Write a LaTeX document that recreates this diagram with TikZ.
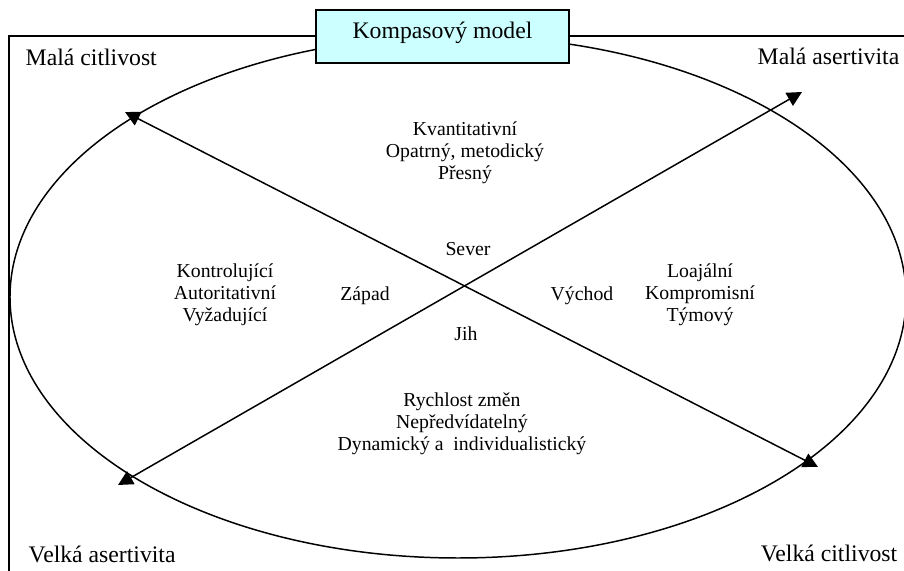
\documentclass[tikz,border=0pt]{standalone}
\usepackage{fontspec}
\setmainfont{Liberation Serif}
\usetikzlibrary{arrows.meta}
\definecolor{titlecyan}{RGB}{204,255,255}
\begin{document}
\begin{tikzpicture}[x=0.506pt, y=-0.506pt, >={Triangle[length=7.5pt,width=7.5pt]}, line width=0.75pt,
  cornerlabel/.style={font=\fontsize{12}{14}\selectfont, inner sep=0pt},
  innerlabel/.style={font=\fontsize{10}{11.2}\selectfont, align=center, inner sep=0pt}]
\useasboundingbox (0,0) rectangle (904,571);
\clip (0,0) rectangle (904,571);
% Ramecek
\draw (9,36) rectangle (960,620);
% Elipsa
\draw (458,297) ellipse [x radius=448, y radius=261];

% Konce os
\coordinate (nw) at (125,112);
\coordinate (se) at (818,467);
\coordinate (sw) at (118,485);
\coordinate (ne) at (802,92);
\draw[<->] (nw) -- (se);
\draw[<->] (sw) -- (ne);

% Rohy
\node[cornerlabel, anchor=base west] (mc) at (25,66) {Malá citlivost};
\node[cornerlabel, anchor=base east] (ma) at (900,65) {Malá asertivita};
\node[cornerlabel, anchor=base west] (va) at (28,563) {Velká asertivita};
\node[cornerlabel, anchor=base east] (vc) at (898,562) {Velká citlivost};

% Svetove strany
\node[innerlabel, anchor=base] (sever) at (468,256) {Sever};
\node[innerlabel, anchor=base] (jih) at (466,341) {Jih};
\node[innerlabel, anchor=base] (zapad) at (365,301) {Západ};
\node[innerlabel, anchor=base] (vychod) at (582,301) {Východ};

% Popisy kvadrantu
\node[innerlabel] (north) at (465,153) {Kvantitativní\\Opatrný, metodický\\Přesný};
\node[innerlabel] (west) at (225,295) {Kontrolující\\Autoritativní\\Vyžadující};
\node[innerlabel] (east) at (700,295) {Loajální\\Kompromisní\\Týmový};
\node[innerlabel] (south) at (462,424) {Rychlost změn\\Nepředvídatelný\\Dynamický a ~individualistický};

% Nadpis
\node[draw, fill=titlecyan, minimum width=128pt, minimum height=26.8pt, inner sep=0pt,
  text height=8.5pt, text depth=6pt, font=\fontsize{12}{14}\selectfont] (title) at (442.5,36.5) {Kompasový model};
\end{tikzpicture}
\end{document}
